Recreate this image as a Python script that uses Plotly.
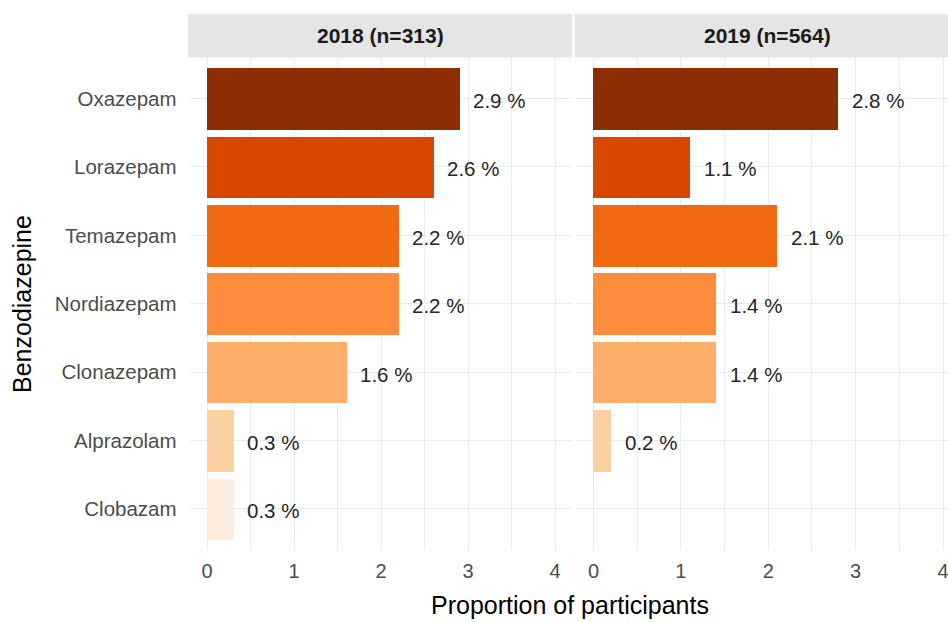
import plotly.graph_objects as go

# ---- data ----
drugs = ["Oxazepam", "Lorazepam", "Temazepam", "Nordiazepam", "Clonazepam", "Alprazolam", "Clobazam"]
vals_2018 = [2.9, 2.6, 2.2, 2.2, 1.6, 0.3, 0.3]
vals_2019 = [2.8, 1.1, 2.1, 1.4, 1.4, 0.2, 0.0]
labels_2018 = ["2.9 %", "2.6 %", "2.2 %", "2.2 %", "1.6 %", "0.3 %", "0.3 %"]
labels_2019 = ["2.8 %", "1.1 %", "2.1 %", "1.4 %", "1.4 %", "0.2 %", ""]
panel_titles = ["2018 (n=313)", "2019 (n=564)"]
x_ticks = [0, 1, 2, 3, 4]
colors = ["#8c2d04", "#d94801", "#f16913", "#fd8d3c", "#fdae6b", "#fdd0a2", "#feedde"]

W, H = 948, 622
FONT = "Liberation Sans, Arial, sans-serif"

def px_x(p):
    return p / W

def px_y(p):
    return 1 - p / H

panel_top, panel_bot = 57.5, 550
p1 = (189.6, 572.4)
p2 = (576.0, 948.0)
unit2 = 87.4
x2_max = -0.2 + (p2[1] - p2[0]) / unit2

fig = go.Figure()

fig.add_trace(go.Bar(x=vals_2018, y=drugs, orientation="h", marker=dict(color=colors, line=dict(width=0)),
                     width=0.9, xaxis="x", yaxis="y", showlegend=False, hoverinfo="x+y"))
fig.add_trace(go.Bar(x=vals_2019, y=drugs, orientation="h", marker=dict(color=colors, line=dict(width=0)),
                     width=0.9, xaxis="x2", yaxis="y2", showlegend=False, hoverinfo="x+y"))

annotations = []
for xr, yr, vals, labs in [("x", "y", vals_2018, labels_2018), ("x2", "y2", vals_2019, labels_2019)]:
    for d, v, lab in zip(drugs, vals, labs):
        if not lab:
            continue
        annotations.append(dict(x=v, y=d, xref=xr, yref=yr, text=lab, showarrow=False,
                                xanchor="left", yanchor="middle", xshift=12, yshift=-2,
                                font=dict(family=FONT, size=20.5, color="#262626")))

# strips
shapes = []
strip_spans = [(188, 572), (575, 948)]
strip_centers = [380.5, 767.5]
for (a, b) in strip_spans:
    shapes.append(dict(type="rect", xref="paper", yref="paper", x0=px_x(a), x1=px_x(b),
                       y0=px_y(57.5), y1=px_y(14), fillcolor="#e5e5e5", line=dict(width=0), layer="below"))
for c, title in zip(strip_centers, panel_titles):
    annotations.append(dict(x=px_x(c), y=px_y(36), xref="paper", yref="paper",
                            text="<b>%s</b>" % title, showarrow=False, xanchor="center", yanchor="middle",
                            font=dict(family=FONT, size=21, color="#1a1a1a")))

# axis titles
annotations.append(dict(x=px_x(570), y=px_y(605), xref="paper", yref="paper", text="Proportion of participants",
                        showarrow=False, xanchor="center", yanchor="middle",
                        font=dict(family=FONT, size=25, color="#000000")))
annotations.append(dict(x=px_x(22), y=px_y(304), xref="paper", yref="paper", text="Benzodiazepine",
                        showarrow=False, xanchor="center", yanchor="middle", textangle=-90,
                        font=dict(family=FONT, size=25, color="#000000")))

xcommon = dict(tickmode="array", tickvals=x_ticks, ticktext=[str(t) for t in x_ticks],
               showgrid=True, gridcolor="#ebebeb", gridwidth=1, zeroline=False, showline=False,
               ticks="", tickfont=dict(family=FONT, size=20, color="#4d4d4d"),
               minor=dict(dtick=0.5, tick0=0, showgrid=True, gridcolor="#ebebeb", gridwidth=1),
               ticklabelstandoff=7, ticklabeloverflow="allow", fixedrange=True)
ycommon = dict(type="category", categoryorder="array", categoryarray=drugs, range=[6.6, -0.6],
               showgrid=True, gridcolor="#ebebeb", gridwidth=1, zeroline=False, showline=False, ticks="",
               domain=[px_y(panel_bot), px_y(panel_top)], fixedrange=True)

fig.update_layout(
    width=W, height=H,
    margin=dict(l=0, r=0, t=0, b=0),
    paper_bgcolor="white", plot_bgcolor="white",
    bargap=0,
    xaxis=dict(domain=[px_x(p1[0]), px_x(p1[1])], range=[-0.2, 4.2], anchor="y", **xcommon),
    xaxis2=dict(domain=[px_x(p2[0]), 1.0], range=[-0.2, x2_max], anchor="y2", **xcommon),
    yaxis=dict(anchor="x", showticklabels=True, ticklabelstandoff=12,
               tickfont=dict(family=FONT, size=20.5, color="#4d4d4d"), **ycommon),
    yaxis2=dict(anchor="x2", showticklabels=False, **ycommon),
    shapes=shapes,
    annotations=annotations,
    font=dict(family=FONT),
)

fig.write_html("out.html", config={"displayModeBar": False},
               post_script="document.body.style.margin='0';document.body.style.overflow='hidden';")
